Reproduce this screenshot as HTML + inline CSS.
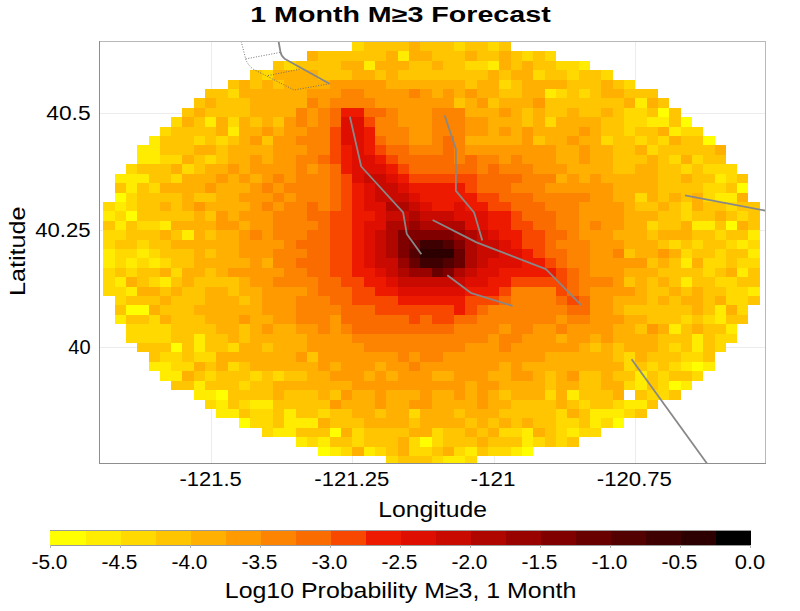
<!DOCTYPE html>
<html><head><meta charset="utf-8"><title>1 Month M≥3 Forecast</title>
<style>
html,body{margin:0;padding:0;background:#fff;}
body{width:800px;height:611px;overflow:hidden;}
svg{display:block;font-family:"Liberation Sans",sans-serif;}
</style></head><body>
<svg width="800" height="611" viewBox="0 0 800 611">
<rect width="800" height="611" fill="#fff"/>
<g stroke="#ececec" stroke-width="1" shape-rendering="crispEdges"><line x1="211.6" y1="41.5" x2="211.6" y2="463.5"/><line x1="352.9" y1="41.5" x2="352.9" y2="463.5"/><line x1="494.1" y1="41.5" x2="494.1" y2="463.5"/><line x1="635.4" y1="41.5" x2="635.4" y2="463.5"/><line x1="99.5" y1="113.2" x2="765.5" y2="113.2"/><line x1="99.5" y1="230.3" x2="765.5" y2="230.3"/><line x1="99.5" y1="347.4" x2="765.5" y2="347.4"/></g>
<g shape-rendering="crispEdges"><path fill="#ffd900" d="M352 42h12v9h-12zM454 42h11v9h-11zM488 42h11v9h-11zM522 51h11v10h-11zM545 51h11v10h-11zM284 61h12v9h-12zM465 61h12v9h-12zM477 61h11v9h-11zM556 61h11v9h-11zM567 61h12v9h-12zM262 70h11v10h-11zM533 70h12v10h-12zM567 70h12v10h-12zM601 70h12v10h-12zM499 80h12v9h-12zM624 80h11v9h-11zM228 89h11v9h-11zM556 89h11v9h-11zM579 89h11v9h-11zM624 108h11v9h-11zM635 108h12v9h-12zM171 117h11v10h-11zM228 117h11v10h-11zM545 117h11v10h-11zM624 117h11v10h-11zM635 117h12v10h-12zM160 127h11v9h-11zM624 127h11v9h-11zM681 127h11v9h-11zM692 127h11v9h-11zM194 136h11v9h-11zM216 136h12v9h-12zM601 136h12v9h-12zM635 136h12v9h-12zM658 136h11v9h-11zM647 145h11v10h-11zM160 155h11v9h-11zM171 155h11v9h-11zM205 155h11v9h-11zM669 155h12v9h-12zM692 155h11v9h-11zM126 164h11v10h-11zM182 164h12v10h-12zM681 164h11v10h-11zM703 164h12v10h-12zM715 164h11v10h-11zM726 164h11v10h-11zM171 174h11v9h-11zM726 174h11v9h-11zM149 183h11v10h-11zM703 183h12v10h-12zM715 183h11v10h-11zM126 193h11v9h-11zM635 193h12v9h-12zM703 193h12v9h-12zM103 202h12v9h-12zM126 202h11v9h-11zM681 202h11v9h-11zM726 202h11v9h-11zM115 211h11v10h-11zM681 211h11v10h-11zM737 211h11v10h-11zM137 221h12v9h-12zM149 221h11v9h-11zM647 221h11v9h-11zM103 230h12v10h-12zM115 230h11v10h-11zM715 230h11v10h-11zM103 240h12v9h-12zM137 240h12v9h-12zM669 240h12v9h-12zM692 240h11v9h-11zM726 240h11v9h-11zM748 240h12v9h-12zM115 249h11v9h-11zM126 249h11v9h-11zM149 249h11v9h-11zM681 249h11v9h-11zM715 249h11v9h-11zM115 258h11v10h-11zM137 258h12v10h-12zM160 258h11v10h-11zM703 258h12v10h-12zM715 258h11v10h-11zM737 258h11v10h-11zM748 258h12v10h-12zM103 268h12v9h-12zM126 268h11v9h-11zM171 268h11v9h-11zM703 268h12v9h-12zM103 277h12v10h-12zM149 277h11v10h-11zM715 277h11v10h-11zM726 277h11v10h-11zM103 287h12v9h-12zM115 287h11v9h-11zM726 287h11v9h-11zM737 287h11v9h-11zM115 296h11v9h-11zM726 296h11v9h-11zM737 296h11v9h-11zM737 305h11v10h-11zM149 315h11v9h-11zM681 315h11v9h-11zM703 315h12v9h-12zM126 324h11v10h-11zM137 324h12v10h-12zM149 324h11v10h-11zM160 324h11v10h-11zM126 334h11v9h-11zM137 334h12v9h-12zM149 334h11v9h-11zM160 334h11v9h-11zM715 334h11v9h-11zM726 334h11v9h-11zM228 343h11v9h-11zM669 343h12v9h-12zM715 343h11v9h-11zM160 352h11v10h-11zM171 352h11v10h-11zM194 352h11v10h-11zM205 352h11v10h-11zM624 352h11v10h-11zM681 352h11v10h-11zM692 352h11v10h-11zM171 362h11v9h-11zM182 362h12v9h-12zM228 362h11v9h-11zM624 362h11v9h-11zM647 362h11v9h-11zM669 362h12v9h-12zM205 371h11v10h-11zM250 371h12v10h-12zM273 371h11v10h-11zM658 371h11v10h-11zM692 371h11v10h-11zM239 381h11v9h-11zM624 381h11v9h-11zM658 381h11v9h-11zM545 390h11v10h-11zM647 390h11v10h-11zM658 390h11v10h-11zM205 400h11v9h-11zM239 400h11v9h-11zM579 400h11v9h-11zM613 400h11v9h-11zM250 409h12v9h-12zM262 409h11v9h-11zM318 409h12v9h-12zM409 409h11v9h-11zM556 409h11v9h-11zM624 409h11v9h-11zM250 418h12v10h-12zM262 418h11v10h-11zM556 418h11v10h-11zM567 418h12v10h-12zM601 418h12v10h-12zM262 428h11v9h-11zM352 428h12v9h-12zM432 428h11v9h-11zM499 428h12v9h-12zM511 428h11v9h-11zM556 428h11v9h-11zM579 428h11v9h-11zM590 428h11v9h-11zM307 437h11v10h-11zM352 437h12v10h-12zM409 437h11v10h-11zM432 437h11v10h-11zM533 437h12v10h-12zM556 437h11v10h-11zM341 447h11v9h-11zM375 447h11v9h-11zM409 447h11v9h-11zM420 447h12v9h-12zM454 447h11v9h-11zM488 447h11v9h-11zM499 447h12v9h-12zM386 456h12v8h-12zM432 456h11v8h-11zM465 456h12v8h-12z"/><path fill="#ffc500" d="M364 42h11v9h-11zM375 42h11v9h-11zM386 42h12v9h-12zM398 42h11v9h-11zM420 42h12v9h-12zM432 42h11v9h-11zM443 42h11v9h-11zM465 42h12v9h-12zM477 42h11v9h-11zM499 42h12v9h-12zM318 51h12v10h-12zM330 51h11v10h-11zM341 51h11v10h-11zM352 51h12v10h-12zM364 51h11v10h-11zM375 51h11v10h-11zM432 51h11v10h-11zM443 51h11v10h-11zM454 51h11v10h-11zM477 51h11v10h-11zM488 51h11v10h-11zM511 51h11v10h-11zM533 51h12v10h-12zM273 61h11v9h-11zM296 61h11v9h-11zM307 61h11v9h-11zM318 61h12v9h-12zM330 61h11v9h-11zM409 61h11v9h-11zM420 61h12v9h-12zM443 61h11v9h-11zM454 61h11v9h-11zM511 61h11v9h-11zM533 61h12v9h-12zM545 61h11v9h-11zM250 70h12v10h-12zM318 70h12v10h-12zM330 70h11v10h-11zM341 70h11v10h-11zM375 70h11v10h-11zM398 70h11v10h-11zM409 70h11v10h-11zM420 70h12v10h-12zM432 70h11v10h-11zM443 70h11v10h-11zM454 70h11v10h-11zM465 70h12v10h-12zM477 70h11v10h-11zM499 70h12v10h-12zM545 70h11v10h-11zM556 70h11v10h-11zM579 70h11v10h-11zM590 70h11v10h-11zM228 80h11v9h-11zM250 80h12v9h-12zM273 80h11v9h-11zM465 80h12v9h-12zM511 80h11v9h-11zM567 80h12v9h-12zM579 80h11v9h-11zM590 80h11v9h-11zM613 80h11v9h-11zM205 89h11v9h-11zM216 89h12v9h-12zM499 89h12v9h-12zM511 89h11v9h-11zM567 89h12v9h-12zM590 89h11v9h-11zM624 89h11v9h-11zM635 89h12v9h-12zM647 89h11v9h-11zM194 98h11v10h-11zM216 98h12v10h-12zM228 98h11v10h-11zM239 98h11v10h-11zM454 98h11v10h-11zM488 98h11v10h-11zM545 98h11v10h-11zM556 98h11v10h-11zM567 98h12v10h-12zM579 98h11v10h-11zM590 98h11v10h-11zM601 98h12v10h-12zM613 98h11v10h-11zM658 98h11v10h-11zM182 108h12v9h-12zM205 108h11v9h-11zM216 108h12v9h-12zM228 108h11v9h-11zM239 108h11v9h-11zM522 108h11v9h-11zM545 108h11v9h-11zM556 108h11v9h-11zM579 108h11v9h-11zM590 108h11v9h-11zM613 108h11v9h-11zM647 108h11v9h-11zM669 108h12v9h-12zM194 117h11v10h-11zM250 117h12v10h-12zM273 117h11v10h-11zM522 117h11v10h-11zM601 117h12v10h-12zM613 117h11v10h-11zM669 117h12v10h-12zM171 127h11v9h-11zM182 127h12v9h-12zM194 127h11v9h-11zM205 127h11v9h-11zM601 127h12v9h-12zM613 127h11v9h-11zM635 127h12v9h-12zM647 127h11v9h-11zM160 136h11v9h-11zM171 136h11v9h-11zM182 136h12v9h-12zM205 136h11v9h-11zM228 136h11v9h-11zM262 136h11v9h-11zM533 136h12v9h-12zM613 136h11v9h-11zM624 136h11v9h-11zM647 136h11v9h-11zM681 136h11v9h-11zM692 136h11v9h-11zM160 145h11v10h-11zM171 145h11v10h-11zM182 145h12v10h-12zM216 145h12v10h-12zM613 145h11v10h-11zM624 145h11v10h-11zM658 145h11v10h-11zM669 145h12v10h-12zM681 145h11v10h-11zM692 145h11v10h-11zM703 145h12v10h-12zM194 155h11v9h-11zM216 155h12v9h-12zM613 155h11v9h-11zM624 155h11v9h-11zM635 155h12v9h-12zM658 155h11v9h-11zM703 155h12v9h-12zM715 155h11v9h-11zM137 164h12v10h-12zM149 164h11v10h-11zM160 164h11v10h-11zM194 164h11v10h-11zM613 164h11v10h-11zM624 164h11v10h-11zM658 164h11v10h-11zM669 164h12v10h-12zM692 164h11v10h-11zM149 174h11v9h-11zM160 174h11v9h-11zM658 174h11v9h-11zM669 174h12v9h-12zM692 174h11v9h-11zM703 174h12v9h-12zM737 174h11v9h-11zM115 183h11v10h-11zM137 183h12v10h-12zM658 183h11v10h-11zM669 183h12v10h-12zM681 183h11v10h-11zM692 183h11v10h-11zM726 183h11v10h-11zM137 193h12v9h-12zM149 193h11v9h-11zM160 193h11v9h-11zM171 193h11v9h-11zM194 193h11v9h-11zM205 193h11v9h-11zM658 193h11v9h-11zM681 193h11v9h-11zM137 202h12v9h-12zM149 202h11v9h-11zM171 202h11v9h-11zM635 202h12v9h-12zM647 202h11v9h-11zM669 202h12v9h-12zM703 202h12v9h-12zM715 202h11v9h-11zM737 202h11v9h-11zM748 202h12v9h-12zM137 211h12v10h-12zM149 211h11v10h-11zM160 211h11v10h-11zM171 211h11v10h-11zM182 211h12v10h-12zM205 211h11v10h-11zM658 211h11v10h-11zM669 211h12v10h-12zM692 211h11v10h-11zM703 211h12v10h-12zM726 211h11v10h-11zM748 211h12v10h-12zM103 221h12v9h-12zM126 221h11v9h-11zM658 221h11v9h-11zM669 221h12v9h-12zM715 221h11v9h-11zM748 221h12v9h-12zM126 230h11v10h-11zM137 230h12v10h-12zM149 230h11v10h-11zM171 230h11v10h-11zM205 230h11v10h-11zM647 230h11v10h-11zM692 230h11v10h-11zM703 230h12v10h-12zM726 230h11v10h-11zM737 230h11v10h-11zM115 240h11v9h-11zM126 240h11v9h-11zM149 240h11v9h-11zM160 240h11v9h-11zM658 240h11v9h-11zM681 240h11v9h-11zM703 240h12v9h-12zM715 240h11v9h-11zM160 249h11v9h-11zM171 249h11v9h-11zM182 249h12v9h-12zM205 249h11v9h-11zM624 249h11v9h-11zM692 249h11v9h-11zM703 249h12v9h-12zM726 249h11v9h-11zM737 249h11v9h-11zM171 258h11v10h-11zM182 258h12v10h-12zM647 258h11v10h-11zM669 258h12v10h-12zM726 258h11v10h-11zM115 268h11v9h-11zM137 268h12v9h-12zM149 268h11v9h-11zM205 268h11v9h-11zM658 268h11v9h-11zM669 268h12v9h-12zM681 268h11v9h-11zM692 268h11v9h-11zM715 268h11v9h-11zM748 268h12v9h-12zM137 277h12v10h-12zM171 277h11v10h-11zM194 277h11v10h-11zM205 277h11v10h-11zM216 277h12v10h-12zM228 277h11v10h-11zM624 277h11v10h-11zM647 277h11v10h-11zM669 277h12v10h-12zM692 277h11v10h-11zM703 277h12v10h-12zM737 277h11v10h-11zM748 277h12v10h-12zM160 287h11v9h-11zM182 287h12v9h-12zM194 287h11v9h-11zM228 287h11v9h-11zM647 287h11v9h-11zM658 287h11v9h-11zM681 287h11v9h-11zM703 287h12v9h-12zM715 287h11v9h-11zM126 296h11v9h-11zM137 296h12v9h-12zM149 296h11v9h-11zM171 296h11v9h-11zM182 296h12v9h-12zM194 296h11v9h-11zM239 296h11v9h-11zM647 296h11v9h-11zM669 296h12v9h-12zM703 296h12v9h-12zM748 296h12v9h-12zM115 305h11v10h-11zM160 305h11v10h-11zM171 305h11v10h-11zM182 305h12v10h-12zM624 305h11v10h-11zM635 305h12v10h-12zM647 305h11v10h-11zM658 305h11v10h-11zM669 305h12v10h-12zM681 305h11v10h-11zM703 305h12v10h-12zM126 315h11v9h-11zM137 315h12v9h-12zM171 315h11v9h-11zM182 315h12v9h-12zM194 315h11v9h-11zM647 315h11v9h-11zM658 315h11v9h-11zM669 315h12v9h-12zM692 315h11v9h-11zM726 315h11v9h-11zM737 315h11v9h-11zM171 324h11v10h-11zM182 324h12v10h-12zM194 324h11v10h-11zM205 324h11v10h-11zM239 324h11v10h-11zM635 324h12v10h-12zM681 324h11v10h-11zM703 324h12v10h-12zM715 324h11v10h-11zM171 334h11v9h-11zM182 334h12v9h-12zM205 334h11v9h-11zM216 334h12v9h-12zM239 334h11v9h-11zM658 334h11v9h-11zM669 334h12v9h-12zM681 334h11v9h-11zM703 334h12v9h-12zM137 343h12v9h-12zM149 343h11v9h-11zM160 343h11v9h-11zM182 343h12v9h-12zM205 343h11v9h-11zM216 343h12v9h-12zM262 343h11v9h-11zM590 343h11v9h-11zM613 343h11v9h-11zM658 343h11v9h-11zM681 343h11v9h-11zM703 343h12v9h-12zM149 352h11v10h-11zM182 352h12v10h-12zM307 352h11v10h-11zM613 352h11v10h-11zM647 352h11v10h-11zM658 352h11v10h-11zM669 352h12v10h-12zM703 352h12v10h-12zM205 362h11v9h-11zM239 362h11v9h-11zM635 362h12v9h-12zM658 362h11v9h-11zM194 371h11v10h-11zM216 371h12v10h-12zM228 371h11v10h-11zM239 371h11v10h-11zM262 371h11v10h-11zM284 371h12v10h-12zM296 371h11v10h-11zM545 371h11v10h-11zM579 371h11v10h-11zM590 371h11v10h-11zM613 371h11v10h-11zM624 371h11v10h-11zM647 371h11v10h-11zM669 371h12v10h-12zM681 371h11v10h-11zM171 381h11v9h-11zM182 381h12v9h-12zM205 381h11v9h-11zM216 381h12v9h-12zM228 381h11v9h-11zM250 381h12v9h-12zM262 381h11v9h-11zM545 381h11v9h-11zM579 381h11v9h-11zM590 381h11v9h-11zM647 381h11v9h-11zM228 390h11v10h-11zM239 390h11v10h-11zM250 390h12v10h-12zM262 390h11v10h-11zM284 390h12v10h-12zM296 390h11v10h-11zM307 390h11v10h-11zM330 390h11v10h-11zM499 390h12v10h-12zM579 390h11v10h-11zM590 390h11v10h-11zM601 390h12v10h-12zM635 390h12v10h-12zM669 390h12v10h-12zM228 400h11v9h-11zM273 400h11v9h-11zM284 400h12v9h-12zM296 400h11v9h-11zM307 400h11v9h-11zM318 400h12v9h-12zM511 400h11v9h-11zM522 400h11v9h-11zM533 400h12v9h-12zM545 400h11v9h-11zM567 400h12v9h-12zM590 400h11v9h-11zM601 400h12v9h-12zM647 400h11v9h-11zM239 409h11v9h-11zM273 409h11v9h-11zM296 409h11v9h-11zM307 409h11v9h-11zM330 409h11v9h-11zM341 409h11v9h-11zM375 409h11v9h-11zM454 409h11v9h-11zM499 409h12v9h-12zM511 409h11v9h-11zM522 409h11v9h-11zM533 409h12v9h-12zM545 409h11v9h-11zM579 409h11v9h-11zM635 409h12v9h-12zM273 418h11v10h-11zM330 418h11v10h-11zM341 418h11v10h-11zM352 418h12v10h-12zM409 418h11v10h-11zM465 418h12v10h-12zM488 418h11v10h-11zM511 418h11v10h-11zM533 418h12v10h-12zM545 418h11v10h-11zM579 418h11v10h-11zM296 428h11v9h-11zM307 428h11v9h-11zM318 428h12v9h-12zM364 428h11v9h-11zM375 428h11v9h-11zM386 428h12v9h-12zM398 428h11v9h-11zM443 428h11v9h-11zM454 428h11v9h-11zM477 428h11v9h-11zM545 428h11v9h-11zM330 437h11v10h-11zM341 437h11v10h-11zM364 437h11v10h-11zM375 437h11v10h-11zM386 437h12v10h-12zM443 437h11v10h-11zM454 437h11v10h-11zM465 437h12v10h-12zM488 437h11v10h-11zM499 437h12v10h-12zM511 437h11v10h-11zM545 437h11v10h-11zM567 437h12v10h-12zM386 447h12v9h-12zM432 447h11v9h-11zM477 447h11v9h-11zM398 456h11v8h-11zM409 456h11v8h-11zM420 456h12v8h-12z"/><path fill="#ffb000" d="M409 42h11v9h-11zM307 51h11v10h-11zM386 51h12v10h-12zM409 51h11v10h-11zM420 51h12v10h-12zM465 51h12v10h-12zM499 51h12v10h-12zM341 61h11v9h-11zM352 61h12v9h-12zM375 61h11v9h-11zM386 61h12v9h-12zM398 61h11v9h-11zM432 61h11v9h-11zM499 61h12v9h-12zM522 61h11v9h-11zM273 70h11v10h-11zM284 70h12v10h-12zM296 70h11v10h-11zM307 70h11v10h-11zM352 70h12v10h-12zM364 70h11v10h-11zM386 70h12v10h-12zM488 70h11v10h-11zM511 70h11v10h-11zM522 70h11v10h-11zM239 80h11v9h-11zM262 80h11v9h-11zM284 80h12v9h-12zM296 80h11v9h-11zM307 80h11v9h-11zM318 80h12v9h-12zM386 80h12v9h-12zM398 80h11v9h-11zM409 80h11v9h-11zM420 80h12v9h-12zM432 80h11v9h-11zM443 80h11v9h-11zM454 80h11v9h-11zM477 80h11v9h-11zM488 80h11v9h-11zM522 80h11v9h-11zM533 80h12v9h-12zM545 80h11v9h-11zM556 80h11v9h-11zM601 80h12v9h-12zM239 89h11v9h-11zM250 89h12v9h-12zM262 89h11v9h-11zM273 89h11v9h-11zM284 89h12v9h-12zM296 89h11v9h-11zM432 89h11v9h-11zM454 89h11v9h-11zM477 89h11v9h-11zM488 89h11v9h-11zM522 89h11v9h-11zM533 89h12v9h-12zM601 89h12v9h-12zM613 89h11v9h-11zM205 98h11v10h-11zM250 98h12v10h-12zM262 98h11v10h-11zM273 98h11v10h-11zM284 98h12v10h-12zM296 98h11v10h-11zM465 98h12v10h-12zM499 98h12v10h-12zM511 98h11v10h-11zM522 98h11v10h-11zM624 98h11v10h-11zM647 98h11v10h-11zM194 108h11v9h-11zM250 108h12v9h-12zM262 108h11v9h-11zM273 108h11v9h-11zM284 108h12v9h-12zM465 108h12v9h-12zM477 108h11v9h-11zM488 108h11v9h-11zM511 108h11v9h-11zM533 108h12v9h-12zM567 108h12v9h-12zM601 108h12v9h-12zM182 117h12v10h-12zM216 117h12v10h-12zM239 117h11v10h-11zM262 117h11v10h-11zM488 117h11v10h-11zM499 117h12v10h-12zM511 117h11v10h-11zM533 117h12v10h-12zM556 117h11v10h-11zM567 117h12v10h-12zM579 117h11v10h-11zM590 117h11v10h-11zM216 127h12v9h-12zM239 127h11v9h-11zM250 127h12v9h-12zM273 127h11v9h-11zM488 127h11v9h-11zM511 127h11v9h-11zM533 127h12v9h-12zM545 127h11v9h-11zM556 127h11v9h-11zM567 127h12v9h-12zM590 127h11v9h-11zM658 127h11v9h-11zM239 136h11v9h-11zM465 136h12v9h-12zM477 136h11v9h-11zM488 136h11v9h-11zM499 136h12v9h-12zM511 136h11v9h-11zM545 136h11v9h-11zM556 136h11v9h-11zM579 136h11v9h-11zM590 136h11v9h-11zM669 136h12v9h-12zM194 145h11v10h-11zM205 145h11v10h-11zM228 145h11v10h-11zM239 145h11v10h-11zM250 145h12v10h-12zM262 145h11v10h-11zM556 145h11v10h-11zM567 145h12v10h-12zM590 145h11v10h-11zM601 145h12v10h-12zM635 145h12v10h-12zM715 145h11v10h-11zM182 155h12v9h-12zM228 155h11v9h-11zM239 155h11v9h-11zM262 155h11v9h-11zM556 155h11v9h-11zM567 155h12v9h-12zM590 155h11v9h-11zM601 155h12v9h-12zM647 155h11v9h-11zM681 155h11v9h-11zM171 164h11v10h-11zM205 164h11v10h-11zM216 164h12v10h-12zM239 164h11v10h-11zM567 164h12v10h-12zM579 164h11v10h-11zM590 164h11v10h-11zM601 164h12v10h-12zM635 164h12v10h-12zM647 164h11v10h-11zM182 174h12v9h-12zM194 174h11v9h-11zM205 174h11v9h-11zM228 174h11v9h-11zM250 174h12v9h-12zM556 174h11v9h-11zM579 174h11v9h-11zM601 174h12v9h-12zM613 174h11v9h-11zM624 174h11v9h-11zM635 174h12v9h-12zM647 174h11v9h-11zM681 174h11v9h-11zM160 183h11v10h-11zM171 183h11v10h-11zM182 183h12v10h-12zM194 183h11v10h-11zM216 183h12v10h-12zM228 183h11v10h-11zM239 183h11v10h-11zM613 183h11v10h-11zM624 183h11v10h-11zM635 183h12v10h-12zM647 183h11v10h-11zM182 193h12v9h-12zM216 193h12v9h-12zM228 193h11v9h-11zM613 193h11v9h-11zM624 193h11v9h-11zM647 193h11v9h-11zM669 193h12v9h-12zM692 193h11v9h-11zM737 193h11v9h-11zM160 202h11v9h-11zM182 202h12v9h-12zM205 202h11v9h-11zM216 202h12v9h-12zM228 202h11v9h-11zM239 202h11v9h-11zM624 202h11v9h-11zM658 202h11v9h-11zM692 202h11v9h-11zM194 211h11v10h-11zM228 211h11v10h-11zM624 211h11v10h-11zM635 211h12v10h-12zM647 211h11v10h-11zM715 211h11v10h-11zM171 221h11v9h-11zM182 221h12v9h-12zM194 221h11v9h-11zM205 221h11v9h-11zM239 221h11v9h-11zM624 221h11v9h-11zM635 221h12v9h-12zM681 221h11v9h-11zM737 221h11v9h-11zM160 230h11v10h-11zM194 230h11v10h-11zM216 230h12v10h-12zM228 230h11v10h-11zM613 230h11v10h-11zM624 230h11v10h-11zM635 230h12v10h-12zM658 230h11v10h-11zM669 230h12v10h-12zM681 230h11v10h-11zM171 240h11v9h-11zM182 240h12v9h-12zM194 240h11v9h-11zM205 240h11v9h-11zM216 240h12v9h-12zM228 240h11v9h-11zM624 240h11v9h-11zM635 240h12v9h-12zM647 240h11v9h-11zM194 249h11v9h-11zM216 249h12v9h-12zM228 249h11v9h-11zM635 249h12v9h-12zM647 249h11v9h-11zM669 249h12v9h-12zM194 258h11v10h-11zM205 258h11v10h-11zM216 258h12v10h-12zM228 258h11v10h-11zM239 258h11v10h-11zM262 258h11v10h-11zM658 258h11v10h-11zM692 258h11v10h-11zM160 268h11v9h-11zM182 268h12v9h-12zM194 268h11v9h-11zM216 268h12v9h-12zM624 268h11v9h-11zM635 268h12v9h-12zM647 268h11v9h-11zM726 268h11v9h-11zM126 277h11v10h-11zM182 277h12v10h-12zM239 277h11v10h-11zM635 277h12v10h-12zM658 277h11v10h-11zM137 287h12v9h-12zM149 287h11v9h-11zM171 287h11v9h-11zM205 287h11v9h-11zM216 287h12v9h-12zM239 287h11v9h-11zM250 287h12v9h-12zM635 287h12v9h-12zM669 287h12v9h-12zM692 287h11v9h-11zM160 296h11v9h-11zM205 296h11v9h-11zM216 296h12v9h-12zM228 296h11v9h-11zM250 296h12v9h-12zM613 296h11v9h-11zM624 296h11v9h-11zM635 296h12v9h-12zM658 296h11v9h-11zM681 296h11v9h-11zM692 296h11v9h-11zM715 296h11v9h-11zM149 305h11v10h-11zM194 305h11v10h-11zM205 305h11v10h-11zM216 305h12v10h-12zM228 305h11v10h-11zM239 305h11v10h-11zM250 305h12v10h-12zM613 305h11v10h-11zM692 305h11v10h-11zM726 305h11v10h-11zM160 315h11v9h-11zM205 315h11v9h-11zM216 315h12v9h-12zM228 315h11v9h-11zM250 315h12v9h-12zM262 315h11v9h-11zM624 315h11v9h-11zM635 315h12v9h-12zM216 324h12v10h-12zM228 324h11v10h-11zM250 324h12v10h-12zM273 324h11v10h-11zM284 324h12v10h-12zM613 324h11v10h-11zM624 324h11v10h-11zM658 324h11v10h-11zM692 324h11v10h-11zM228 334h11v9h-11zM250 334h12v9h-12zM262 334h11v9h-11zM273 334h11v9h-11zM284 334h12v9h-12zM296 334h11v9h-11zM556 334h11v9h-11zM590 334h11v9h-11zM613 334h11v9h-11zM624 334h11v9h-11zM635 334h12v9h-12zM647 334h11v9h-11zM239 343h11v9h-11zM250 343h12v9h-12zM273 343h11v9h-11zM284 343h12v9h-12zM296 343h11v9h-11zM579 343h11v9h-11zM601 343h12v9h-12zM624 343h11v9h-11zM635 343h12v9h-12zM647 343h11v9h-11zM216 352h12v10h-12zM228 352h11v10h-11zM239 352h11v10h-11zM250 352h12v10h-12zM262 352h11v10h-11zM273 352h11v10h-11zM284 352h12v10h-12zM545 352h11v10h-11zM556 352h11v10h-11zM567 352h12v10h-12zM579 352h11v10h-11zM590 352h11v10h-11zM601 352h12v10h-12zM635 352h12v10h-12zM194 362h11v9h-11zM216 362h12v9h-12zM250 362h12v9h-12zM262 362h11v9h-11zM273 362h11v9h-11zM284 362h12v9h-12zM296 362h11v9h-11zM307 362h11v9h-11zM330 362h11v9h-11zM375 362h11v9h-11zM499 362h12v9h-12zM522 362h11v9h-11zM533 362h12v9h-12zM545 362h11v9h-11zM556 362h11v9h-11zM567 362h12v9h-12zM579 362h11v9h-11zM590 362h11v9h-11zM601 362h12v9h-12zM613 362h11v9h-11zM182 371h12v10h-12zM307 371h11v10h-11zM318 371h12v10h-12zM364 371h11v10h-11zM386 371h12v10h-12zM432 371h11v10h-11zM443 371h11v10h-11zM488 371h11v10h-11zM499 371h12v10h-12zM533 371h12v10h-12zM556 371h11v10h-11zM601 371h12v10h-12zM273 381h11v9h-11zM284 381h12v9h-12zM296 381h11v9h-11zM307 381h11v9h-11zM318 381h12v9h-12zM330 381h11v9h-11zM341 381h11v9h-11zM465 381h12v9h-12zM499 381h12v9h-12zM511 381h11v9h-11zM522 381h11v9h-11zM533 381h12v9h-12zM556 381h11v9h-11zM567 381h12v9h-12zM601 381h12v9h-12zM613 381h11v9h-11zM273 390h11v10h-11zM318 390h12v10h-12zM352 390h12v10h-12zM364 390h11v10h-11zM386 390h12v10h-12zM398 390h11v10h-11zM409 390h11v10h-11zM432 390h11v10h-11zM443 390h11v10h-11zM465 390h12v10h-12zM488 390h11v10h-11zM511 390h11v10h-11zM522 390h11v10h-11zM533 390h12v10h-12zM556 390h11v10h-11zM613 390h11v10h-11zM341 400h11v9h-11zM352 400h12v9h-12zM364 400h11v9h-11zM386 400h12v9h-12zM398 400h11v9h-11zM432 400h11v9h-11zM443 400h11v9h-11zM454 400h11v9h-11zM465 400h12v9h-12zM488 400h11v9h-11zM499 400h12v9h-12zM556 400h11v9h-11zM352 409h12v9h-12zM364 409h11v9h-11zM386 409h12v9h-12zM398 409h11v9h-11zM420 409h12v9h-12zM432 409h11v9h-11zM443 409h11v9h-11zM465 409h12v9h-12zM477 409h11v9h-11zM488 409h11v9h-11zM567 409h12v9h-12zM318 418h12v10h-12zM364 418h11v10h-11zM375 418h11v10h-11zM386 418h12v10h-12zM398 418h11v10h-11zM420 418h12v10h-12zM432 418h11v10h-11zM443 418h11v10h-11zM454 418h11v10h-11zM477 418h11v10h-11zM499 418h12v10h-12zM522 418h11v10h-11zM341 428h11v9h-11zM409 428h11v9h-11zM420 428h12v9h-12zM465 428h12v9h-12zM488 428h11v9h-11zM533 428h12v9h-12zM398 437h11v10h-11zM477 437h11v10h-11zM352 447h12v9h-12zM398 447h11v9h-11zM443 447h11v9h-11z"/><path fill="#ffec00" d="M398 51h11v10h-11zM364 61h11v9h-11zM488 61h11v9h-11zM579 61h11v9h-11zM545 89h11v9h-11zM635 98h12v10h-12zM205 117h11v10h-11zM647 117h11v10h-11zM658 117h11v10h-11zM228 127h11v9h-11zM669 127h12v9h-12zM149 136h11v9h-11zM137 145h12v10h-12zM149 145h11v10h-11zM137 155h12v9h-12zM149 155h11v9h-11zM115 174h11v9h-11zM126 174h11v9h-11zM137 174h12v9h-12zM715 174h11v9h-11zM126 183h11v10h-11zM715 193h11v9h-11zM726 193h11v9h-11zM115 202h11v9h-11zM103 211h12v10h-12zM115 221h11v9h-11zM160 221h11v9h-11zM692 221h11v9h-11zM703 221h12v9h-12zM182 230h12v10h-12zM748 230h12v10h-12zM737 240h11v9h-11zM103 249h12v9h-12zM137 249h12v9h-12zM748 249h12v9h-12zM103 258h12v10h-12zM126 258h11v10h-11zM149 258h11v10h-11zM681 258h11v10h-11zM737 268h11v9h-11zM115 277h11v10h-11zM160 277h11v10h-11zM681 277h11v10h-11zM126 287h11v9h-11zM748 287h12v9h-12zM715 305h11v10h-11zM115 315h11v9h-11zM715 315h11v9h-11zM669 324h12v10h-12zM726 324h11v10h-11zM194 334h11v9h-11zM692 334h11v9h-11zM194 343h11v9h-11zM692 343h11v9h-11zM149 362h11v9h-11zM160 362h11v9h-11zM681 362h11v9h-11zM703 362h12v9h-12zM160 371h11v10h-11zM171 371h11v10h-11zM635 371h12v10h-12zM194 381h11v9h-11zM635 381h12v9h-12zM681 381h11v9h-11zM194 390h11v10h-11zM205 390h11v10h-11zM567 390h12v10h-12zM216 400h12v9h-12zM250 400h12v9h-12zM262 400h11v9h-11zM624 400h11v9h-11zM635 400h12v9h-12zM216 409h12v9h-12zM228 409h11v9h-11zM284 409h12v9h-12zM590 409h11v9h-11zM601 409h12v9h-12zM613 409h11v9h-11zM284 418h12v10h-12zM296 418h11v10h-11zM307 418h11v10h-11zM590 418h11v10h-11zM273 428h11v9h-11zM284 428h12v9h-12zM522 428h11v9h-11zM567 428h12v9h-12zM296 437h11v10h-11zM318 437h12v10h-12zM522 437h11v10h-11zM330 447h11v9h-11zM364 447h11v9h-11zM465 447h12v9h-12zM511 447h11v9h-11zM443 456h11v8h-11zM454 456h11v8h-11z"/><path fill="#ff9b00" d="M330 80h11v9h-11zM341 80h11v9h-11zM352 80h12v9h-12zM364 80h11v9h-11zM375 80h11v9h-11zM307 89h11v9h-11zM318 89h12v9h-12zM330 89h11v9h-11zM364 89h11v9h-11zM375 89h11v9h-11zM386 89h12v9h-12zM398 89h11v9h-11zM420 89h12v9h-12zM443 89h11v9h-11zM465 89h12v9h-12zM318 98h12v10h-12zM375 98h11v10h-11zM386 98h12v10h-12zM398 98h11v10h-11zM409 98h11v10h-11zM420 98h12v10h-12zM432 98h11v10h-11zM443 98h11v10h-11zM477 98h11v10h-11zM533 98h12v10h-12zM307 108h11v9h-11zM398 108h11v9h-11zM409 108h11v9h-11zM420 108h12v9h-12zM499 108h12v9h-12zM284 117h12v10h-12zM307 117h11v10h-11zM398 117h11v10h-11zM409 117h11v10h-11zM420 117h12v10h-12zM465 117h12v10h-12zM477 117h11v10h-11zM262 127h11v9h-11zM284 127h12v9h-12zM296 127h11v9h-11zM409 127h11v9h-11zM420 127h12v9h-12zM465 127h12v9h-12zM477 127h11v9h-11zM499 127h12v9h-12zM522 127h11v9h-11zM579 127h11v9h-11zM250 136h12v9h-12zM273 136h11v9h-11zM284 136h12v9h-12zM409 136h11v9h-11zM420 136h12v9h-12zM522 136h11v9h-11zM567 136h12v9h-12zM273 145h11v10h-11zM284 145h12v10h-12zM296 145h11v10h-11zM465 145h12v10h-12zM477 145h11v10h-11zM488 145h11v10h-11zM499 145h12v10h-12zM511 145h11v10h-11zM522 145h11v10h-11zM533 145h12v10h-12zM545 145h11v10h-11zM579 145h11v10h-11zM250 155h12v9h-12zM273 155h11v9h-11zM284 155h12v9h-12zM499 155h12v9h-12zM522 155h11v9h-11zM533 155h12v9h-12zM545 155h11v9h-11zM579 155h11v9h-11zM228 164h11v10h-11zM250 164h12v10h-12zM262 164h11v10h-11zM273 164h11v10h-11zM284 164h12v10h-12zM307 164h11v10h-11zM533 164h12v10h-12zM545 164h11v10h-11zM556 164h11v10h-11zM216 174h12v9h-12zM239 174h11v9h-11zM262 174h11v9h-11zM284 174h12v9h-12zM567 174h12v9h-12zM590 174h11v9h-11zM205 183h11v10h-11zM250 183h12v10h-12zM273 183h11v10h-11zM545 183h11v10h-11zM556 183h11v10h-11zM567 183h12v10h-12zM579 183h11v10h-11zM590 183h11v10h-11zM601 183h12v10h-12zM239 193h11v9h-11zM250 193h12v9h-12zM262 193h11v9h-11zM284 193h12v9h-12zM590 193h11v9h-11zM601 193h12v9h-12zM194 202h11v9h-11zM250 202h12v9h-12zM273 202h11v9h-11zM579 202h11v9h-11zM590 202h11v9h-11zM601 202h12v9h-12zM613 202h11v9h-11zM216 211h12v10h-12zM239 211h11v10h-11zM250 211h12v10h-12zM262 211h11v10h-11zM579 211h11v10h-11zM590 211h11v10h-11zM601 211h12v10h-12zM613 211h11v10h-11zM216 221h12v9h-12zM228 221h11v9h-11zM250 221h12v9h-12zM262 221h11v9h-11zM579 221h11v9h-11zM601 221h12v9h-12zM613 221h11v9h-11zM239 230h11v10h-11zM262 230h11v10h-11zM579 230h11v10h-11zM590 230h11v10h-11zM601 230h12v10h-12zM239 240h11v9h-11zM250 240h12v9h-12zM262 240h11v9h-11zM273 240h11v9h-11zM590 240h11v9h-11zM601 240h12v9h-12zM613 240h11v9h-11zM239 249h11v9h-11zM250 249h12v9h-12zM262 249h11v9h-11zM590 249h11v9h-11zM601 249h12v9h-12zM658 249h11v9h-11zM250 258h12v10h-12zM590 258h11v10h-11zM601 258h12v10h-12zM613 258h11v10h-11zM624 258h11v10h-11zM635 258h12v10h-12zM228 268h11v9h-11zM239 268h11v9h-11zM250 268h12v9h-12zM262 268h11v9h-11zM273 268h11v9h-11zM590 268h11v9h-11zM601 268h12v9h-12zM613 268h11v9h-11zM250 277h12v10h-12zM262 277h11v10h-11zM613 277h11v10h-11zM262 287h11v9h-11zM273 287h11v9h-11zM284 287h12v9h-12zM296 287h11v9h-11zM590 287h11v9h-11zM601 287h12v9h-12zM613 287h11v9h-11zM624 287h11v9h-11zM262 296h11v9h-11zM273 296h11v9h-11zM284 296h12v9h-12zM590 296h11v9h-11zM601 296h12v9h-12zM262 305h11v10h-11zM273 305h11v10h-11zM284 305h12v10h-12zM590 305h11v10h-11zM601 305h12v10h-12zM239 315h11v9h-11zM273 315h11v9h-11zM284 315h12v9h-12zM330 315h11v9h-11zM556 315h11v9h-11zM590 315h11v9h-11zM601 315h12v9h-12zM613 315h11v9h-11zM262 324h11v10h-11zM296 324h11v10h-11zM307 324h11v10h-11zM330 324h11v10h-11zM499 324h12v10h-12zM533 324h12v10h-12zM545 324h11v10h-11zM567 324h12v10h-12zM579 324h11v10h-11zM590 324h11v10h-11zM601 324h12v10h-12zM647 324h11v10h-11zM307 334h11v9h-11zM318 334h12v9h-12zM330 334h11v9h-11zM341 334h11v9h-11zM488 334h11v9h-11zM522 334h11v9h-11zM533 334h12v9h-12zM545 334h11v9h-11zM567 334h12v9h-12zM579 334h11v9h-11zM601 334h12v9h-12zM307 343h11v9h-11zM318 343h12v9h-12zM330 343h11v9h-11zM341 343h11v9h-11zM352 343h12v9h-12zM465 343h12v9h-12zM477 343h11v9h-11zM488 343h11v9h-11zM511 343h11v9h-11zM522 343h11v9h-11zM533 343h12v9h-12zM545 343h11v9h-11zM556 343h11v9h-11zM567 343h12v9h-12zM296 352h11v10h-11zM318 352h12v10h-12zM330 352h11v10h-11zM341 352h11v10h-11zM352 352h12v10h-12zM364 352h11v10h-11zM375 352h11v10h-11zM386 352h12v10h-12zM409 352h11v10h-11zM443 352h11v10h-11zM454 352h11v10h-11zM465 352h12v10h-12zM477 352h11v10h-11zM488 352h11v10h-11zM499 352h12v10h-12zM511 352h11v10h-11zM522 352h11v10h-11zM533 352h12v10h-12zM318 362h12v9h-12zM341 362h11v9h-11zM352 362h12v9h-12zM364 362h11v9h-11zM386 362h12v9h-12zM398 362h11v9h-11zM420 362h12v9h-12zM432 362h11v9h-11zM443 362h11v9h-11zM454 362h11v9h-11zM465 362h12v9h-12zM477 362h11v9h-11zM488 362h11v9h-11zM511 362h11v9h-11zM330 371h11v10h-11zM341 371h11v10h-11zM352 371h12v10h-12zM375 371h11v10h-11zM398 371h11v10h-11zM409 371h11v10h-11zM420 371h12v10h-12zM454 371h11v10h-11zM465 371h12v10h-12zM477 371h11v10h-11zM511 371h11v10h-11zM522 371h11v10h-11zM567 371h12v10h-12zM352 381h12v9h-12zM364 381h11v9h-11zM375 381h11v9h-11zM386 381h12v9h-12zM398 381h11v9h-11zM409 381h11v9h-11zM420 381h12v9h-12zM432 381h11v9h-11zM443 381h11v9h-11zM454 381h11v9h-11zM477 381h11v9h-11zM488 381h11v9h-11zM341 390h11v10h-11zM375 390h11v10h-11zM420 390h12v10h-12zM454 390h11v10h-11zM477 390h11v10h-11zM330 400h11v9h-11zM375 400h11v9h-11zM409 400h11v9h-11zM420 400h12v9h-12zM477 400h11v9h-11z"/><path fill="#fd8400" d="M341 89h11v9h-11zM352 89h12v9h-12zM409 89h11v9h-11zM307 98h11v10h-11zM330 98h11v10h-11zM341 98h11v10h-11zM352 98h12v10h-12zM364 98h11v10h-11zM296 108h11v9h-11zM318 108h12v9h-12zM386 108h12v9h-12zM432 108h11v9h-11zM443 108h11v9h-11zM454 108h11v9h-11zM296 117h11v10h-11zM318 117h12v10h-12zM375 117h11v10h-11zM386 117h12v10h-12zM432 117h11v10h-11zM443 117h11v10h-11zM454 117h11v10h-11zM307 127h11v9h-11zM318 127h12v9h-12zM375 127h11v9h-11zM386 127h12v9h-12zM398 127h11v9h-11zM432 127h11v9h-11zM443 127h11v9h-11zM454 127h11v9h-11zM296 136h11v9h-11zM307 136h11v9h-11zM318 136h12v9h-12zM386 136h12v9h-12zM398 136h11v9h-11zM432 136h11v9h-11zM454 136h11v9h-11zM307 145h11v10h-11zM318 145h12v10h-12zM409 145h11v10h-11zM420 145h12v10h-12zM432 145h11v10h-11zM454 145h11v10h-11zM296 155h11v9h-11zM307 155h11v9h-11zM454 155h11v9h-11zM477 155h11v9h-11zM488 155h11v9h-11zM511 155h11v9h-11zM296 164h11v10h-11zM318 164h12v10h-12zM477 164h11v10h-11zM499 164h12v10h-12zM511 164h11v10h-11zM522 164h11v10h-11zM273 174h11v9h-11zM296 174h11v9h-11zM307 174h11v9h-11zM318 174h12v9h-12zM522 174h11v9h-11zM533 174h12v9h-12zM545 174h11v9h-11zM262 183h11v10h-11zM284 183h12v10h-12zM296 183h11v10h-11zM307 183h11v10h-11zM318 183h12v10h-12zM511 183h11v10h-11zM522 183h11v10h-11zM533 183h12v10h-12zM273 193h11v9h-11zM296 193h11v9h-11zM307 193h11v9h-11zM318 193h12v9h-12zM533 193h12v9h-12zM545 193h11v9h-11zM556 193h11v9h-11zM567 193h12v9h-12zM579 193h11v9h-11zM262 202h11v9h-11zM284 202h12v9h-12zM296 202h11v9h-11zM318 202h12v9h-12zM545 202h11v9h-11zM556 202h11v9h-11zM567 202h12v9h-12zM273 211h11v10h-11zM284 211h12v10h-12zM296 211h11v10h-11zM556 211h11v10h-11zM567 211h12v10h-12zM273 221h11v9h-11zM284 221h12v9h-12zM296 221h11v9h-11zM307 221h11v9h-11zM556 221h11v9h-11zM567 221h12v9h-12zM590 221h11v9h-11zM250 230h12v10h-12zM273 230h11v10h-11zM284 230h12v10h-12zM296 230h11v10h-11zM567 230h12v10h-12zM284 240h12v9h-12zM556 240h11v9h-11zM567 240h12v9h-12zM579 240h11v9h-11zM273 249h11v9h-11zM284 249h12v9h-12zM296 249h11v9h-11zM567 249h12v9h-12zM579 249h11v9h-11zM613 249h11v9h-11zM273 258h11v10h-11zM284 258h12v10h-12zM567 258h12v10h-12zM579 258h11v10h-11zM284 268h12v9h-12zM296 268h11v9h-11zM579 268h11v9h-11zM273 277h11v10h-11zM284 277h12v10h-12zM296 277h11v10h-11zM307 277h11v10h-11zM579 277h11v10h-11zM590 277h11v10h-11zM601 277h12v10h-12zM307 287h11v9h-11zM511 287h11v9h-11zM522 287h11v9h-11zM533 287h12v9h-12zM545 287h11v9h-11zM579 287h11v9h-11zM296 296h11v9h-11zM307 296h11v9h-11zM318 296h12v9h-12zM511 296h11v9h-11zM522 296h11v9h-11zM533 296h12v9h-12zM545 296h11v9h-11zM296 305h11v10h-11zM307 305h11v10h-11zM318 305h12v10h-12zM330 305h11v10h-11zM488 305h11v10h-11zM499 305h12v10h-12zM511 305h11v10h-11zM522 305h11v10h-11zM533 305h12v10h-12zM545 305h11v10h-11zM556 305h11v10h-11zM296 315h11v9h-11zM307 315h11v9h-11zM318 315h12v9h-12zM477 315h11v9h-11zM488 315h11v9h-11zM499 315h12v9h-12zM511 315h11v9h-11zM522 315h11v9h-11zM533 315h12v9h-12zM545 315h11v9h-11zM567 315h12v9h-12zM579 315h11v9h-11zM318 324h12v10h-12zM341 324h11v10h-11zM454 324h11v10h-11zM465 324h12v10h-12zM477 324h11v10h-11zM488 324h11v10h-11zM511 324h11v10h-11zM522 324h11v10h-11zM556 324h11v10h-11zM352 334h12v9h-12zM364 334h11v9h-11zM375 334h11v9h-11zM386 334h12v9h-12zM398 334h11v9h-11zM409 334h11v9h-11zM420 334h12v9h-12zM432 334h11v9h-11zM443 334h11v9h-11zM454 334h11v9h-11zM465 334h12v9h-12zM477 334h11v9h-11zM499 334h12v9h-12zM511 334h11v9h-11zM364 343h11v9h-11zM375 343h11v9h-11zM386 343h12v9h-12zM398 343h11v9h-11zM409 343h11v9h-11zM420 343h12v9h-12zM432 343h11v9h-11zM443 343h11v9h-11zM454 343h11v9h-11zM499 343h12v9h-12zM398 352h11v10h-11zM420 352h12v10h-12zM432 352h11v10h-11zM409 362h11v9h-11z"/><path fill="#fb6c00" d="M330 108h11v9h-11zM364 108h11v9h-11zM375 108h11v9h-11zM330 117h11v10h-11zM375 136h11v9h-11zM443 136h11v9h-11zM386 145h12v10h-12zM398 145h11v10h-11zM443 145h11v10h-11zM318 155h12v9h-12zM398 155h11v9h-11zM409 155h11v9h-11zM420 155h12v9h-12zM432 155h11v9h-11zM443 155h11v9h-11zM465 155h12v9h-12zM330 164h11v10h-11zM409 164h11v10h-11zM420 164h12v10h-12zM432 164h11v10h-11zM443 164h11v10h-11zM454 164h11v10h-11zM465 164h12v10h-12zM488 164h11v10h-11zM330 174h11v9h-11zM477 174h11v9h-11zM488 174h11v9h-11zM499 174h12v9h-12zM511 174h11v9h-11zM330 183h11v10h-11zM477 183h11v10h-11zM488 183h11v10h-11zM499 183h12v10h-12zM330 193h11v9h-11zM499 193h12v9h-12zM511 193h11v9h-11zM522 193h11v9h-11zM307 202h11v9h-11zM330 202h11v9h-11zM511 202h11v9h-11zM522 202h11v9h-11zM533 202h12v9h-12zM307 211h11v10h-11zM318 211h12v10h-12zM522 211h11v10h-11zM533 211h12v10h-12zM545 211h11v10h-11zM318 221h12v9h-12zM533 221h12v9h-12zM545 221h11v9h-11zM307 230h11v10h-11zM318 230h12v10h-12zM545 230h11v10h-11zM556 230h11v10h-11zM296 240h11v9h-11zM307 240h11v9h-11zM318 240h12v9h-12zM545 240h11v9h-11zM307 249h11v9h-11zM318 249h12v9h-12zM545 249h11v9h-11zM556 249h11v9h-11zM296 258h11v10h-11zM307 258h11v10h-11zM318 258h12v10h-12zM556 258h11v10h-11zM307 268h11v9h-11zM318 268h12v9h-12zM567 268h12v9h-12zM318 277h12v10h-12zM330 277h11v10h-11zM567 277h12v10h-12zM318 287h12v9h-12zM330 287h11v9h-11zM341 287h11v9h-11zM567 287h12v9h-12zM330 296h11v9h-11zM341 296h11v9h-11zM499 296h12v9h-12zM556 296h11v9h-11zM579 296h11v9h-11zM341 305h11v10h-11zM352 305h12v10h-12zM364 305h11v10h-11zM477 305h11v10h-11zM567 305h12v10h-12zM579 305h11v10h-11zM341 315h11v9h-11zM352 315h12v9h-12zM364 315h11v9h-11zM375 315h11v9h-11zM386 315h12v9h-12zM398 315h11v9h-11zM420 315h12v9h-12zM454 315h11v9h-11zM465 315h12v9h-12zM352 324h12v10h-12zM364 324h11v10h-11zM375 324h11v10h-11zM386 324h12v10h-12zM398 324h11v10h-11zM409 324h11v10h-11zM420 324h12v10h-12zM432 324h11v10h-11zM443 324h11v10h-11z"/><path fill="#ee1a00" d="M341 108h11v9h-11zM352 108h12v9h-12zM364 127h11v9h-11zM364 136h11v9h-11zM341 145h11v10h-11zM364 145h11v10h-11zM341 155h11v9h-11zM375 155h11v9h-11zM341 164h11v10h-11zM386 164h12v10h-12zM398 174h11v9h-11zM352 183h12v10h-12zM409 183h11v10h-11zM420 183h12v10h-12zM432 183h11v10h-11zM443 183h11v10h-11zM454 183h11v10h-11zM352 193h12v9h-12zM420 193h12v9h-12zM432 193h11v9h-11zM443 193h11v9h-11zM454 193h11v9h-11zM465 193h12v9h-12zM352 202h12v9h-12zM432 202h11v9h-11zM443 202h11v9h-11zM465 202h12v9h-12zM477 202h11v9h-11zM352 211h12v10h-12zM364 211h11v10h-11zM488 211h11v10h-11zM499 211h12v10h-12zM352 221h12v9h-12zM488 221h11v9h-11zM499 221h12v9h-12zM352 230h12v10h-12zM499 230h12v10h-12zM511 230h11v10h-11zM352 240h12v9h-12zM511 240h11v9h-11zM352 249h12v9h-12zM522 249h11v9h-11zM352 258h12v10h-12zM522 258h11v10h-11zM533 258h12v10h-12zM352 268h12v9h-12zM364 268h11v9h-11zM499 268h12v9h-12zM511 268h11v9h-11zM522 268h11v9h-11zM533 268h12v9h-12zM545 268h11v9h-11zM364 277h11v10h-11zM375 277h11v10h-11zM488 277h11v10h-11zM499 277h12v10h-12zM375 287h11v9h-11zM386 287h12v9h-12zM465 287h12v9h-12zM477 287h11v9h-11zM488 287h11v9h-11zM398 296h11v9h-11zM409 296h11v9h-11zM420 296h12v9h-12zM432 296h11v9h-11zM443 296h11v9h-11zM454 296h11v9h-11zM454 305h11v10h-11z"/><path fill="#ffff00" d="M658 108h11v9h-11zM681 117h11v10h-11zM703 136h12v9h-12zM737 183h11v10h-11zM115 193h11v9h-11zM126 211h11v10h-11zM726 221h11v9h-11zM126 305h11v10h-11zM137 305h12v10h-12zM171 343h11v9h-11zM692 362h11v9h-11zM669 381h12v9h-12zM216 390h12v10h-12zM239 418h11v10h-11zM613 418h11v10h-11zM330 428h11v9h-11zM420 437h12v10h-12zM318 447h12v9h-12zM522 447h11v9h-11z"/><path fill="#de0e00" d="M341 117h11v10h-11zM352 117h12v10h-12zM341 127h11v9h-11zM352 127h12v9h-12zM341 136h11v9h-11zM352 136h12v9h-12zM352 145h12v10h-12zM352 155h12v9h-12zM364 155h11v9h-11zM352 164h12v10h-12zM364 164h11v10h-11zM375 164h11v10h-11zM352 174h12v9h-12zM386 174h12v9h-12zM364 183h11v10h-11zM398 183h11v10h-11zM364 193h11v9h-11zM409 193h11v9h-11zM364 202h11v9h-11zM375 202h11v9h-11zM420 202h12v9h-12zM454 202h11v9h-11zM375 211h11v10h-11zM454 211h11v10h-11zM465 211h12v10h-12zM477 211h11v10h-11zM364 221h11v9h-11zM375 221h11v9h-11zM465 221h12v9h-12zM477 221h11v9h-11zM364 230h11v10h-11zM488 230h11v10h-11zM364 240h11v9h-11zM499 240h12v9h-12zM364 249h11v9h-11zM499 249h12v9h-12zM511 249h11v9h-11zM364 258h11v10h-11zM488 258h11v10h-11zM499 258h12v10h-12zM511 258h11v10h-11zM375 268h11v9h-11zM477 268h11v9h-11zM488 268h11v9h-11zM386 277h12v10h-12zM465 277h12v10h-12zM477 277h11v10h-11zM398 287h11v9h-11zM409 287h11v9h-11zM420 287h12v9h-12zM432 287h11v9h-11zM443 287h11v9h-11zM454 287h11v9h-11z"/><path fill="#f84800" d="M364 117h11v10h-11zM330 127h11v9h-11zM330 136h11v9h-11zM330 145h11v10h-11zM375 145h11v10h-11zM330 155h11v9h-11zM386 155h12v9h-12zM398 164h11v10h-11zM341 174h11v9h-11zM409 174h11v9h-11zM420 174h12v9h-12zM432 174h11v9h-11zM443 174h11v9h-11zM454 174h11v9h-11zM465 174h12v9h-12zM341 183h11v10h-11zM465 183h12v10h-12zM341 193h11v9h-11zM477 193h11v9h-11zM488 193h11v9h-11zM341 202h11v9h-11zM488 202h11v9h-11zM499 202h12v9h-12zM330 211h11v10h-11zM341 211h11v10h-11zM511 211h11v10h-11zM330 221h11v9h-11zM341 221h11v9h-11zM511 221h11v9h-11zM522 221h11v9h-11zM330 230h11v10h-11zM341 230h11v10h-11zM522 230h11v10h-11zM533 230h12v10h-12zM330 240h11v9h-11zM341 240h11v9h-11zM522 240h11v9h-11zM533 240h12v9h-12zM330 249h11v9h-11zM341 249h11v9h-11zM533 249h12v9h-12zM330 258h11v10h-11zM341 258h11v10h-11zM545 258h11v10h-11zM330 268h11v9h-11zM341 268h11v9h-11zM556 268h11v9h-11zM341 277h11v10h-11zM352 277h12v10h-12zM511 277h11v10h-11zM522 277h11v10h-11zM533 277h12v10h-12zM545 277h11v10h-11zM556 277h11v10h-11zM352 287h12v9h-12zM364 287h11v9h-11zM499 287h12v9h-12zM556 287h11v9h-11zM352 296h12v9h-12zM364 296h11v9h-11zM375 296h11v9h-11zM386 296h12v9h-12zM465 296h12v9h-12zM477 296h11v9h-11zM488 296h11v9h-11zM567 296h12v9h-12zM375 305h11v10h-11zM386 305h12v10h-12zM398 305h11v10h-11zM409 305h11v10h-11zM420 305h12v10h-12zM432 305h11v10h-11zM443 305h11v10h-11zM465 305h12v10h-12zM409 315h11v9h-11zM432 315h11v9h-11zM443 315h11v9h-11z"/><path fill="#c80a00" d="M364 174h11v9h-11zM375 174h11v9h-11zM375 183h11v10h-11zM386 183h12v10h-12zM375 193h11v9h-11zM386 193h12v9h-12zM398 193h11v9h-11zM409 202h11v9h-11zM386 211h12v10h-12zM398 211h11v10h-11zM420 211h12v10h-12zM432 211h11v10h-11zM443 211h11v10h-11zM375 230h11v10h-11zM477 230h11v10h-11zM375 240h11v9h-11zM477 240h11v9h-11zM488 240h11v9h-11zM375 249h11v9h-11zM477 249h11v9h-11zM488 249h11v9h-11zM375 258h11v10h-11zM386 258h12v10h-12zM477 258h11v10h-11zM386 268h12v9h-12zM465 268h12v9h-12zM398 277h11v10h-11zM409 277h11v10h-11zM420 277h12v10h-12zM432 277h11v10h-11zM443 277h11v10h-11zM454 277h11v10h-11z"/><path fill="#b00600" d="M386 202h12v9h-12zM398 202h11v9h-11zM409 211h11v10h-11zM386 221h12v9h-12zM398 221h11v9h-11zM420 221h12v9h-12zM432 221h11v9h-11zM443 221h11v9h-11zM454 221h11v9h-11zM386 230h12v10h-12zM465 230h12v10h-12zM386 240h12v9h-12zM465 240h12v9h-12zM386 249h12v9h-12zM465 249h12v9h-12zM465 258h12v10h-12zM398 268h11v9h-11zM454 268h11v9h-11z"/><path fill="#980300" d="M409 221h11v9h-11zM454 230h11v10h-11zM398 258h11v10h-11zM409 268h11v9h-11zM420 268h12v9h-12z"/><path fill="#800000" d="M398 230h11v10h-11zM409 230h11v10h-11zM420 230h12v10h-12zM432 230h11v10h-11zM443 230h11v10h-11zM398 240h11v9h-11zM454 240h11v9h-11zM398 249h11v9h-11zM443 268h11v9h-11z"/><path fill="#680000" d="M409 240h11v9h-11zM454 249h11v9h-11zM409 258h11v10h-11zM454 258h11v10h-11zM432 268h11v9h-11z"/><path fill="#3e0000" d="M420 240h12v9h-12zM432 240h11v9h-11zM420 258h12v10h-12zM432 258h11v10h-11z"/><path fill="#520000" d="M443 240h11v9h-11zM409 249h11v9h-11zM443 258h11v10h-11z"/><path fill="#2c0000" d="M420 249h12v9h-12zM432 249h11v9h-11zM443 249h11v9h-11z"/></g>
<g fill="none" stroke="#666" stroke-width="0.9" stroke-dasharray="1 1.6"><path d="M241.2 41.5 L245.7 58.9 M245.7 58.9 L280.4 52.4 M245.7 58.9 Q247 64 252.9 69 L294.1 90 L329.6 83.7 M268 75.6 L301 69"/></g>
<g fill="none" stroke="#888" stroke-width="1.8" stroke-linejoin="round"><polyline points="349.9,116.8 361.2,166.5 403.1,212.4 406.8,233.9 421.4,254.3"/><polyline points="444.6,115.3 455.9,149 455.9,190.9 474.1,212.5 482.3,240.6"/><polyline points="432.6,220 476.5,242.4 545.9,269.1 581.2,305.2"/><polyline points="447.3,275.3 471.4,293.2 512.6,305.9"/><polyline points="685,195.4 765.5,210.7"/><polyline points="631.6,359.3 707,463.5"/><path d="M278.6 41.5 L280.4 51.7 Q281.2 56.3 284.6 58.7 L329.6 83.7"/></g>
<rect x="99.5" y="41.5" width="666" height="422" fill="none" stroke="#b8b8b8" stroke-width="1" shape-rendering="crispEdges"/>
<path d="M99.5 41V464M99 463.5H766" fill="none" stroke="#8e8e8e" stroke-width="1" shape-rendering="crispEdges"/>
<rect x="50.5" y="530.5" width="700" height="14.5" fill="none" stroke="#9a9a9a" stroke-width="1" shape-rendering="crispEdges"/>
<g shape-rendering="crispEdges"><rect x="50" y="531" width="36" height="14" fill="#ffff00"/><rect x="86" y="531" width="35" height="14" fill="#ffec00"/><rect x="121" y="531" width="35" height="14" fill="#ffd900"/><rect x="156" y="531" width="35" height="14" fill="#ffc500"/><rect x="191" y="531" width="35" height="14" fill="#ffb000"/><rect x="226" y="531" width="35" height="14" fill="#ff9b00"/><rect x="261" y="531" width="35" height="14" fill="#fd8400"/><rect x="296" y="531" width="35" height="14" fill="#fb6c00"/><rect x="331" y="531" width="35" height="14" fill="#f84800"/><rect x="366" y="531" width="35" height="14" fill="#ee1a00"/><rect x="401" y="531" width="35" height="14" fill="#de0e00"/><rect x="436" y="531" width="35" height="14" fill="#c80a00"/><rect x="471" y="531" width="35" height="14" fill="#b00600"/><rect x="506" y="531" width="35" height="14" fill="#980300"/><rect x="541" y="531" width="35" height="14" fill="#800000"/><rect x="576" y="531" width="35" height="14" fill="#680000"/><rect x="611" y="531" width="35" height="14" fill="#520000"/><rect x="646" y="531" width="35" height="14" fill="#3e0000"/><rect x="681" y="531" width="35" height="14" fill="#2c0000"/><rect x="716" y="531" width="35" height="14" fill="#000000"/></g>
<g stroke="#b4b4b4" stroke-width="1" shape-rendering="crispEdges"><line x1="50.5" y1="545" x2="50.5" y2="548"/><line x1="120.5" y1="545" x2="120.5" y2="548"/><line x1="190.5" y1="545" x2="190.5" y2="548"/><line x1="260.5" y1="545" x2="260.5" y2="548"/><line x1="330.5" y1="545" x2="330.5" y2="548"/><line x1="400.5" y1="545" x2="400.5" y2="548"/><line x1="470.5" y1="545" x2="470.5" y2="548"/><line x1="540.5" y1="545" x2="540.5" y2="548"/><line x1="610.5" y1="545" x2="610.5" y2="548"/><line x1="680.5" y1="545" x2="680.5" y2="548"/><line x1="750.5" y1="545" x2="750.5" y2="548"/></g>
<g fill="#000"><text x="250.2" y="22" font-size="21.3" textLength="300.5" lengthAdjust="spacingAndGlyphs" text-anchor="start" font-weight="bold">1 Month M≥3 Forecast</text><text x="90.6" y="119.7" font-size="19.5" textLength="44.3" lengthAdjust="spacingAndGlyphs" text-anchor="end" font-weight="normal">40.5</text><text x="90.6" y="236.8" font-size="19.5" textLength="55.4" lengthAdjust="spacingAndGlyphs" text-anchor="end" font-weight="normal">40.25</text><text x="90.6" y="353.9" font-size="19.5" textLength="22.3" lengthAdjust="spacingAndGlyphs" text-anchor="end" font-weight="normal">40</text><text x="210.6" y="486.4" font-size="19.5" textLength="62.2" lengthAdjust="spacingAndGlyphs" text-anchor="middle" font-weight="normal">-121.5</text><text x="351.9" y="486.4" font-size="19.5" textLength="75.1" lengthAdjust="spacingAndGlyphs" text-anchor="middle" font-weight="normal">-121.25</text><text x="493.1" y="486.4" font-size="19.5" textLength="45" lengthAdjust="spacingAndGlyphs" text-anchor="middle" font-weight="normal">-121</text><text x="634.4" y="486.4" font-size="19.5" textLength="75.1" lengthAdjust="spacingAndGlyphs" text-anchor="middle" font-weight="normal">-120.75</text><text x="378.3" y="516.7" font-size="21.5" textLength="108.6" lengthAdjust="spacingAndGlyphs" text-anchor="start" font-weight="normal">Longitude</text><text transform="translate(25.2,296) rotate(-90)" font-size="22" textLength="89.5" lengthAdjust="spacingAndGlyphs">Latitude</text><text x="49.5" y="569" font-size="19.3" textLength="36" lengthAdjust="spacingAndGlyphs" text-anchor="middle" font-weight="normal">-5.0</text><text x="119.5" y="569" font-size="19.3" textLength="36" lengthAdjust="spacingAndGlyphs" text-anchor="middle" font-weight="normal">-4.5</text><text x="189.5" y="569" font-size="19.3" textLength="36" lengthAdjust="spacingAndGlyphs" text-anchor="middle" font-weight="normal">-4.0</text><text x="259.5" y="569" font-size="19.3" textLength="36" lengthAdjust="spacingAndGlyphs" text-anchor="middle" font-weight="normal">-3.5</text><text x="329.5" y="569" font-size="19.3" textLength="36" lengthAdjust="spacingAndGlyphs" text-anchor="middle" font-weight="normal">-3.0</text><text x="399.5" y="569" font-size="19.3" textLength="36" lengthAdjust="spacingAndGlyphs" text-anchor="middle" font-weight="normal">-2.5</text><text x="469.5" y="569" font-size="19.3" textLength="36" lengthAdjust="spacingAndGlyphs" text-anchor="middle" font-weight="normal">-2.0</text><text x="539.5" y="569" font-size="19.3" textLength="36" lengthAdjust="spacingAndGlyphs" text-anchor="middle" font-weight="normal">-1.5</text><text x="609.5" y="569" font-size="19.3" textLength="36" lengthAdjust="spacingAndGlyphs" text-anchor="middle" font-weight="normal">-1.0</text><text x="679.5" y="569" font-size="19.3" textLength="36" lengthAdjust="spacingAndGlyphs" text-anchor="middle" font-weight="normal">-0.5</text><text x="750" y="569" font-size="19.3" textLength="30.5" lengthAdjust="spacingAndGlyphs" text-anchor="middle" font-weight="normal">0.0</text><text x="224.8" y="597.6" font-size="21.5" textLength="351.5" lengthAdjust="spacingAndGlyphs" text-anchor="start" font-weight="normal">Log10 Probability M≥3, 1 Month</text></g>
</svg>
</body></html>
